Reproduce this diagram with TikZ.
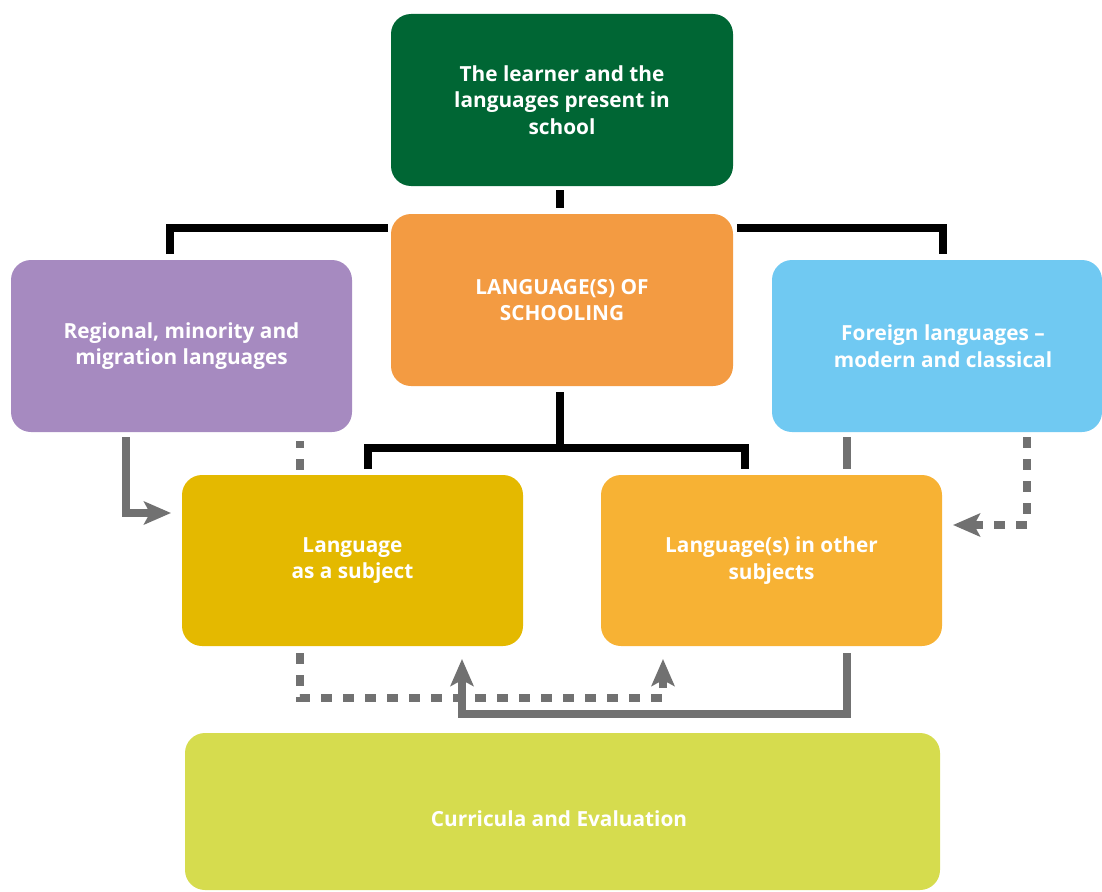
\documentclass[tikz,border=0pt]{standalone}
\usepackage{fontspec}
\setmainfont{Open Sans}
\usetikzlibrary{calc,arrows.meta}
\definecolor{cgreen}{RGB}{0,102,52}
\definecolor{corange}{RGB}{243,155,66}
\definecolor{cpurple}{RGB}{166,138,192}
\definecolor{cblue}{RGB}{112,201,242}
\definecolor{cyellow}{RGB}{228,185,0}
\definecolor{clorange}{RGB}{247,178,52}
\definecolor{clime}{RGB}{214,220,78}
\definecolor{cgray}{RGB}{113,113,113}
\begin{document}
\begin{tikzpicture}[x=1pt,y=-1pt,
  box/.style={rounded corners=20pt, inner sep=0pt, outer sep=0pt, text=white,
    font=\bfseries\fontsize{20.8}{26.5}\selectfont, align=center},
  blk/.style={draw=black, line width=8pt, line join=miter},
  gsolid/.style={draw=cgray, line width=7.5pt, line join=miter},
  gdash/.style={draw=cgray, line width=7.5pt, line join=miter, dash pattern=on 11pt off 11pt},
  tip/.style={-{Stealth[length=27pt,width=23pt,inset=6pt]}}]
\useasboundingbox (0,0) rectangle (1102,891);
% boxes
\node[box, fill=cgreen, minimum width=342pt, minimum height=172pt] (green) at (562,100)
  {The learner and the\\languages present in\\school};
\node[box, fill=corange, minimum width=342pt, minimum height=172pt] (orange) at (562,300)
  {LANGUAGE(S) OF\\SCHOOLING};
\node[box, fill=cpurple, minimum width=341pt, minimum height=172pt] (purple) at (181.5,346)
  {Regional, minority and\\migration languages};
\node[box, fill=cblue, minimum width=330pt, minimum height=172pt] (blue) at (937,346)
  {\hspace*{12pt}Foreign languages –\\\hspace*{12pt}modern and classical};
\node[box, fill=cyellow, minimum width=341pt, minimum height=171pt] (yellow) at (352.5,560.5)
  {Language\\as a subject};
\node[box, fill=clorange, minimum width=341pt, minimum height=171pt] (lorange) at (771.5,560.5)
  {Language(s) in other\\subjects};
\node[box, fill=clime, minimum width=755pt, minimum height=157pt] (lime) at (562.5,811.5) {};
\node[box, text=white] (limetext) at (559,819) {Curricula and Evaluation};
% black connectors
\draw[blk] ($(green.south)+(-2,4)$) -- ($(orange.north)+(-2,-6)$);
\draw[blk] ($(purple.north)+(-11.5,-6)$) |- ($(orange.north west)+(-3,14)$);
\draw[blk] ($(orange.north east)+(4,14)$) -| ($(blue.north)+(6,-6)$);
\draw[blk] ($(orange.south)+(-2,6)$) -- coordinate[pos=1] (j) ($(orange.south)+(-2,62)$);
\draw[blk] ($(yellow.north)+(15.5,-6)$) |- (j) -| ($(lorange.north)+(-26.5,-6)$);
% gray connectors
\draw[gsolid, tip] ($(purple.south)+(-55.5,5)$) |- ($(yellow.west)+(-11,-47.5)$);
\draw[gdash, dash phase=4pt] ($(purple.south)+(118.5,9)$) -- ($(yellow.north)+(-52.5,-5)$);
\draw[gsolid] ($(blue.south)+(-90,5)$) -- ($(lorange.north)+(75.5,-6)$);
\draw[gdash, tip] ($(blue.south)+(90,5)$) |- ($(lorange.east)+(11,-35.5)$);
\draw[gdash, tip] ($(yellow.south)+(-52.5,7)$) |- ($(lorange.south)+(-108.5,52)$)
  -- ($(lorange.south)+(-108.5,13)$);
\draw[gsolid, tip] ($(lorange.south)+(75.5,7)$) |- ($(yellow.south)+(109.5,68)$)
  -- ($(yellow.south)+(109.5,13)$);
\end{tikzpicture}
\end{document}
